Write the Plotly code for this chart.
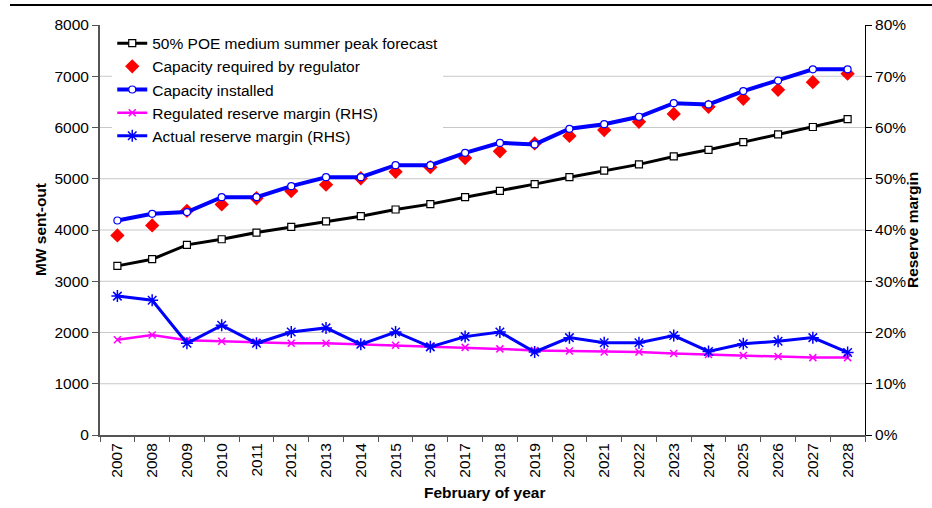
import plotly.graph_objects as go

# Summer peak demand vs. installed capacity, with reserve margins (RHS)
years = [str(y) for y in range(2007, 2029)]

peak_forecast = [3300, 3430, 3710, 3820, 3950, 4060, 4170, 4270, 4400, 4505, 4640,
                 4765, 4895, 5030, 5160, 5280, 5435, 5565, 5715, 5865, 6010, 6165]
capacity_required = [3895, 4090, 4375, 4500, 4620, 4760, 4885, 5010, 5135, 5225, 5405,
                     5535, 5690, 5835, 5950, 6110, 6265, 6405, 6560, 6735, 6885, 7050]
capacity_installed = [4185, 4315, 4350, 4640, 4640, 4855, 5030, 5030, 5265, 5265, 5505,
                      5700, 5670, 5975, 6065, 6210, 6475, 6450, 6710, 6915, 7135, 7135]
regulated_margin = [0.186, 0.195, 0.185, 0.183, 0.181, 0.179, 0.179, 0.177, 0.175, 0.173, 0.171,
                    0.168, 0.165, 0.164, 0.162, 0.162, 0.159, 0.157, 0.155, 0.153, 0.151, 0.151]
actual_margin = [0.271, 0.263, 0.179, 0.214, 0.179, 0.201, 0.209, 0.177, 0.201, 0.172, 0.192,
                 0.201, 0.162, 0.190, 0.180, 0.180, 0.194, 0.163, 0.178, 0.183, 0.190, 0.161]

mw_ticks = list(range(0, 8001, 1000))
pct_ticks = [i / 10 for i in range(0, 9)]

FONT = "Liberation Sans, Arial, sans-serif"
FS = 15.5

fig = go.Figure()

fig.add_trace(go.Scatter(
    x=years, y=peak_forecast, name="50% POE medium summer peak forecast",
    mode="lines+markers", line=dict(color="#000000", width=3),
    marker=dict(symbol="square", size=7, color="white", line=dict(color="#000000", width=1.2)),
))
fig.add_trace(go.Scatter(
    x=years, y=capacity_required, name="Capacity required by regulator",
    mode="markers",
    marker=dict(symbol="diamond", size=11, color="#FF0000", line=dict(width=0)),
))
fig.add_trace(go.Scatter(
    x=years, y=capacity_installed, name="Capacity installed",
    mode="lines+markers", line=dict(color="#0000FF", width=4),
    marker=dict(symbol="circle", size=7, color="white", line=dict(color="#0000FF", width=1.2)),
))
fig.add_trace(go.Scatter(
    x=years, y=regulated_margin, name="Regulated reserve margin (RHS)", yaxis="y2",
    mode="lines+markers", line=dict(color="#FF00FF", width=2.5),
    marker=dict(symbol="x-thin-open", size=7, color="#FF00FF", line=dict(color="#FF00FF", width=1.5)),
))
fig.add_trace(go.Scatter(
    x=years, y=actual_margin, name="Actual reserve margin (RHS)", yaxis="y2",
    mode="lines+markers", line=dict(color="#0000FF", width=3),
    marker=dict(symbol="asterisk-open", size=10, color="#0000FF", line=dict(color="#0000FF", width=1.5)),
))

# light horizontal gridlines at the MW ticks (excluding the top and bottom edges)
shapes = [
    dict(type="line", xref="paper", yref="y", x0=0, x1=1, y0=v, y1=v,
         line=dict(color="#C8C8C8", width=1), layer="below")
    for v in mw_ticks[1:-1]
]
# header rule across the top of the page
shapes.append(dict(type="line", xref="paper", yref="paper",
                   x0=(10 - 100) / 765, x1=(932 - 100) / 765, y0=1.049, y1=1.049,
                   line=dict(color="#000000", width=2)))

fig.update_layout(
    width=932, height=508,
    margin=dict(l=100, r=67, t=25, b=73),
    paper_bgcolor="white", plot_bgcolor="white",
    font=dict(family=FONT, size=FS, color="#000000"),
    showlegend=True,
    legend=dict(
        x=0.016, y=0.996, xanchor="left", yanchor="top",
        bgcolor="white", borderwidth=0,
        font=dict(family=FONT, size=FS, color="#000000"),
        tracegroupgap=0, itemwidth=30,
    ),
    xaxis=dict(
        type="category", range=[-0.5, len(years) - 0.5],
        tickangle=-90, tickson="boundaries", ticks="outside", ticklen=5,
        tickcolor="#555555", showline=True, linecolor="#555555", linewidth=2,
        showgrid=False, tickfont=dict(size=FS),
    ),
    yaxis=dict(
        range=[0, 8000], tickvals=mw_ticks, ticks="outside", ticklen=6,
        tickcolor="#555555", showline=True, linecolor="#555555", linewidth=2,
        showgrid=False, zeroline=False, tickfont=dict(size=FS),
    ),
    yaxis2=dict(
        overlaying="y", side="right", range=[0, 0.8], tickvals=pct_ticks,
        tickformat=".0%", ticks="outside", ticklen=6, tickcolor="#000000",
        showline=True, linecolor="#000000", linewidth=1,
        showgrid=False, zeroline=False, tickfont=dict(size=FS),
    ),
    shapes=shapes,
    annotations=[
        dict(text="<b>MW sent-out</b>", xref="paper", yref="paper",
             x=(40 - 100) / 765, y=0.5, textangle=-90, showarrow=False,
             xanchor="center", yanchor="middle", font=dict(size=FS)),
        dict(text="<b>Reserve margin</b>", xref="paper", yref="paper",
             x=(912 - 100) / 765, y=0.5, textangle=-90, showarrow=False,
             xanchor="center", yanchor="middle", font=dict(size=FS)),
        dict(text="<b>February of year</b>", xref="paper", yref="paper",
             x=(484 - 100) / 765, y=(435 - 492) / 410, showarrow=False,
             xanchor="center", yanchor="middle", font=dict(size=FS)),
    ],
)

fig.write_html("out.html")
